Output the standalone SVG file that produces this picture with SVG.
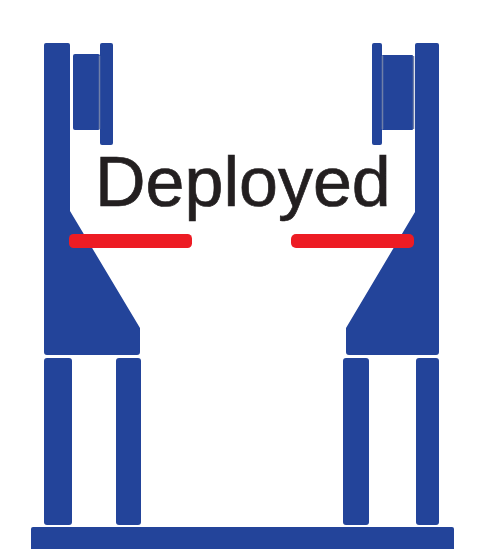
<svg xmlns="http://www.w3.org/2000/svg" width="495" height="549" viewBox="0 0 495 549">
<style>
.b{fill:#23449a}
.r{fill:#ed1c24}
.s{stroke:#6f7fa8;stroke-width:1.5;fill:none}
text{font-family:"Liberation Sans",Arial,sans-serif;font-size:70px;fill:#231f20;stroke:#231f20;stroke-width:.7}
</style>
<rect width="495" height="549" fill="#fff"/>
<g id="base"><path class="b" d="M31 549V529Q31 527 33 527H452Q454 527 454 529V549Z"/></g>
<g id="left-assembly">
<path class="b" d="M46 43H68Q70 43 70 45V211L140 328V352Q140 355 137 355H47Q44 355 44 352V45Q44 43 46 43Z"/>
<rect class="b" x="73" y="54" width="27" height="76" rx="2"/>
<rect class="b" x="100" y="43" width="13" height="102" rx="2"/>
<path class="s" d="M99.500 56V129"/>
<rect class="b" x="44" y="358" width="28" height="167" rx="3"/>
<rect class="b" x="116" y="358" width="25" height="167" rx="3"/>
</g>
<g id="right-assembly">
<path class="b" d="M417 43H437Q439 43 439 45V352Q439 355 436 355H349Q346 355 346 352V328L415 212V45Q415 43 417 43Z"/>
<rect class="b" x="382" y="55" width="31" height="75" rx="1"/>
<rect class="b" x="372" y="43" width="10" height="102" rx="2"/>
<path class="s" d="M382.500 56V129M413.500 56V129"/>
<rect class="b" x="343" y="358" width="26" height="167" rx="3"/>
<rect class="b" x="416" y="358" width="23" height="167" rx="3"/>
</g>
<g id="connectors">
<rect class="r" x="69" y="234" width="123" height="14" rx="4.500"/>
<rect class="r" x="291" y="234" width="123" height="14" rx="5"/>
</g>
<g id="label"><text x="95" y="206">Deployed</text></g>
</svg>
